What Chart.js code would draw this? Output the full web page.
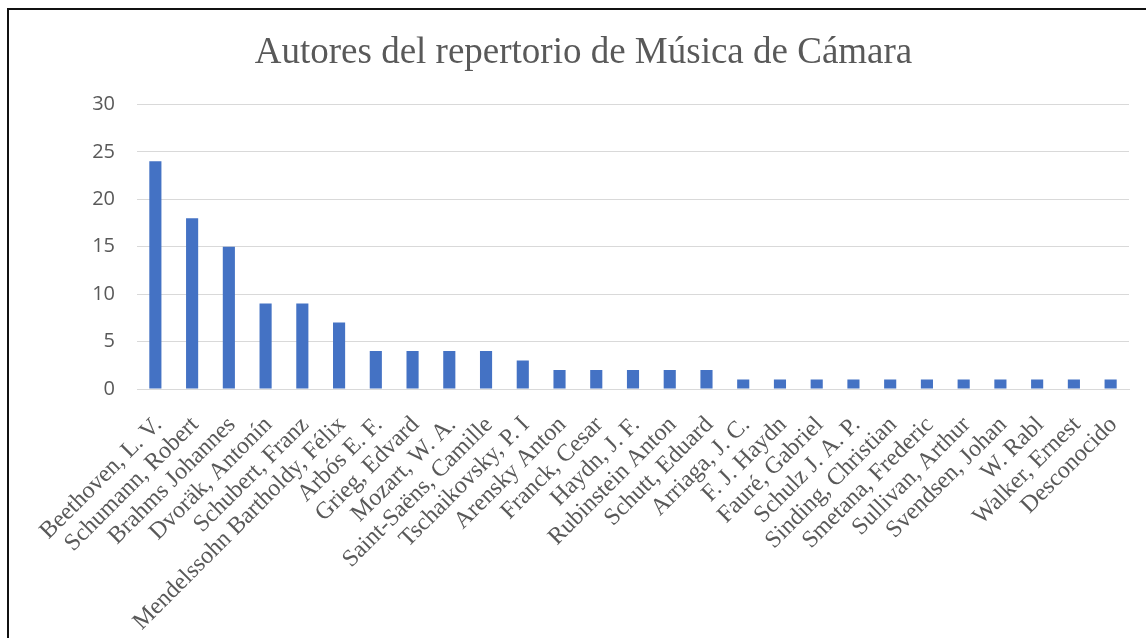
<!DOCTYPE html>
<html>
<head>
<meta charset="utf-8">
<script src="https://cdn.jsdelivr.net/npm/chart.js@4"></script>
<style>
  body { margin: 0; background: #fff; overflow: hidden; }
  #frame { position: absolute; left: 7px; top: 8px; width: 1400px; height: 900px; border: 2px solid #111; }
  #chart { position: absolute; left: 0; top: 0; }
</style>
</head>
<body>
<div id="frame"></div>
<canvas id="chart" width="1146" height="638"></canvas>
<script>
const titleText = 'Autores del repertorio de Música de Cámara';

const composers = [
    'Beethoven, L. V.', 'Schumann, Robert', 'Brahms Johannes', 'Dvoräk, Antonín',
    'Schubert, Franz', 'Mendelssohn Bartholdy, Félix', 'Arbós E. F.', 'Grieg, Edvard',
    'Mozart, W. A.', 'Saint-Saëns, Camille', 'Tschaikovsky, P. I', 'Arensky Anton',
    'Franck, Cesar', 'Haydn, J. F.', 'Rubinstein Anton', 'Schutt, Eduard',
    'Arriaga, J. C.', 'F. J. Haydn', 'Fauré, Gabriel', 'Schulz J. A. P.',
    'Sinding, Christian', 'Smetana, Frederic', 'Sullivan, Arthur', 'Svendsen, Johan',
    'W. Rabl', 'Walker, Ernest', 'Desconocido'
];

const works = [24, 18, 15, 9, 9, 7, 4, 4, 4, 4, 3, 2, 2, 2, 2, 2, 1, 1, 1, 1, 1, 1, 1, 1, 1, 1, 1];

const yTicks = [0, 5, 10, 15, 20, 25, 30];

const grey = '#595959';

new Chart(document.getElementById('chart'), {
    type: 'bar',
    data: {
        labels: composers,
        datasets: [{
            label: 'Obras',
            data: works,
            backgroundColor: '#4472c4',
            borderWidth: 0,
            barPercentage: 0.33,
            categoryPercentage: 1
        }]
    },
    options: {
        responsive: false,
        animation: false,
        devicePixelRatio: 1,
        layout: { padding: { left: 38, right: 17, top: 0, bottom: 0 } },
        plugins: {
            legend: { display: false },
            tooltip: { enabled: false },
            title: {
                display: true,
                text: titleText,
                color: grey,
                font: { family: '"Liberation Serif", "Times New Roman", serif', size: 37, weight: 'normal' },
                padding: { top: 31, bottom: 29 }
            }
        },
        scales: {
            x: {
                grid: { display: false, drawTicks: false },
                border: { display: true, color: '#d9d9d9', width: 1 },
                ticks: {
                    color: grey,
                    autoSkip: false,
                    minRotation: 45,
                    maxRotation: 45,
                    padding: 22,
                    labelOffset: 3,
                    font: { family: '"Liberation Serif", "Times New Roman", serif', size: 24 }
                },
                afterFit: function(scale) {
                    scale.height = 249;
                    scale.paddingLeft = 0;
                    scale.paddingRight = 0;
                }
            },
            y: {
                min: 0,
                max: 30,
                afterBuildTicks: function(scale) {
                    scale.ticks = yTicks.map(v => ({ value: v }));
                },
                grid: { color: '#d9d9d9', lineWidth: 1, drawTicks: false },
                border: { display: false },
                ticks: {
                    color: grey,
                    padding: 22,
                    font: { family: '"Open Sans", sans-serif', size: 20 }
                },
                afterFit: function(scale) { scale.width = 99; }
            }
        }
    }
});
</script>
</body>
</html>
